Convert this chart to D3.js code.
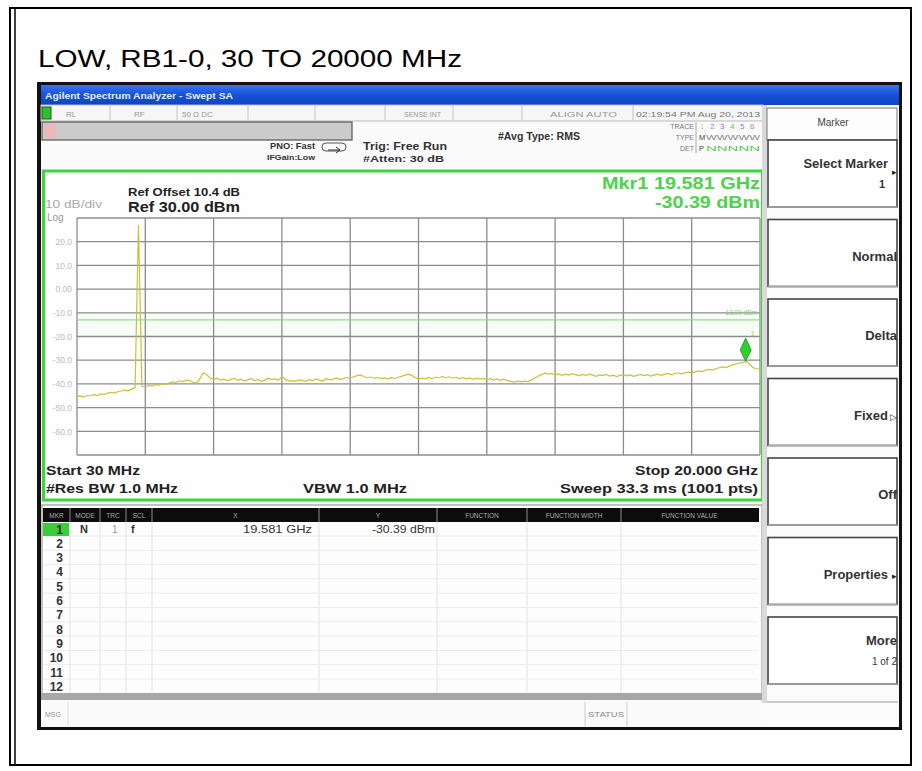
<!DOCTYPE html>
<html>
<head>
<meta charset="utf-8">
<script src="https://cdn.jsdelivr.net/npm/d3@7"></script>
<style>
  body { margin: 0; background: #fff; }
  svg { display: block; }
  text { font-family: "Liberation Sans", Arial, sans-serif; }
</style>
</head>
<body>
<svg id="chart" width="922" height="771"></svg>
<script>
// ---- sweep settings ----
const startMHz = 30;
const stopMHz = 20000;
const refLevel = 30;      // dBm, top of the graticule
const dbPerDiv = 10;
const divisions = 10;
const displayLineDbm = -13;

// ---- y graticule labels ----
const yTickValues = [20, 10, 0, -10, -20, -30, -40, -50, -60];
const yTickLabels = ["20.0", "10.0", "0.00", "-10.0", "-20.0", "-30.0", "-40.0", "-50.0", "-60.0"];

// ---- trace 1, dBm, evenly spaced from start to stop ----
const traceDbm = [
  -45.4, -45.1, -45.6, -44.9, -44.8, -44.5, -44.9, -44.2, -44.4, -43.9,
  -43.6, -43.9, -43.2, -43.0, -42.6, -42.9, -42.2, -41.7, 27.0, -41.0,
  -41.2, -40.6, -40.9, -40.3, -40.5, -39.9, -40.2, -39.6, -39.1, -39.4,
  -38.7, -39.0, -38.4, -38.6, -39.3, -39.6, -37.8, -35.3, -36.1, -37.5,
  -38.2, -37.6, -38.4, -37.9, -38.7, -38.1, -37.7, -38.5, -38.0, -38.8,
  -38.3, -37.8, -38.6, -38.1, -38.9, -38.4, -37.6, -38.2, -37.9, -38.5,
  -36.8, -38.1, -38.7, -38.6, -38.9, -38.3, -38.5, -38.8, -38.2, -38.6,
  -37.9, -38.4, -38.8, -37.7, -38.3, -38.0, -37.5, -38.1, -37.8, -37.3,
  -37.6, -37.0, -36.5, -36.2, -36.9, -37.4, -37.1, -37.6, -37.3, -37.8,
  -37.5, -37.9, -37.4, -37.7, -37.2, -36.8, -36.3, -35.9, -36.4, -37.3,
  -38.0, -37.6, -37.9, -37.3, -37.8, -37.1, -37.5, -36.8, -37.4, -37.0,
  -37.6, -37.2, -37.8, -37.4, -37.9, -37.5, -38.1, -37.6, -38.0, -37.7,
  -38.2, -37.8, -38.4, -37.9, -38.5, -38.0, -38.6, -38.9, -39.2, -38.7,
  -39.1, -38.8, -39.0, -38.4, -37.6, -36.8, -36.1, -35.5, -35.9, -35.6,
  -36.2, -35.8, -36.4, -35.9, -36.3, -35.7, -36.1, -36.6, -36.0, -36.4,
  -35.9, -36.3, -36.8, -36.2, -36.5, -36.0, -36.7, -36.3, -36.9, -36.4,
  -36.1, -36.6, -36.2, -36.8, -36.4, -36.0, -36.5, -36.1, -36.7, -36.3,
  -35.9, -36.4, -36.0, -35.6, -36.1, -35.7, -35.3, -35.8, -35.4, -35.0,
  -35.3, -34.9, -34.5, -34.8, -34.3, -33.9, -34.2, -33.6, -33.2, -32.8,
  -33.1, -32.5, -32.0, -31.6, -31.1, -31.0, -30.4, -31.8, -33.2, -33.6,
  -33.9
];

// ---- marker 1 ----
const markerFreqMHz = 19581;
const markerDbm = -30.39;

// ---- marker table ----
const markerRowNumbers = [1, 2, 3, 4, 5, 6, 7, 8, 9, 10, 11, 12];
const markerTableHeaders = ["MKR", "MODE", "TRC", "SCL", "X", "Y", "FUNCTION", "FUNCTION WIDTH", "FUNCTION VALUE"];
const markerRow1 = { mode: "N", trc: "1", scl: "f", x: "19.581 GHz", y: "-30.39 dBm" };

// ---- softkeys ----
const softkeys = [
  { label: "Select Marker", arrow: "\u25B8", sub: "1" },
  { label: "Normal" },
  { label: "Delta" },
  { label: "Fixed", arrow: "\u25B7" },
  { label: "Off" },
  { label: "Properties", arrow: "\u25B8" },
  { label: "More", sub: "1 of 2" }
];

const svg = d3.select("#chart");

function text(x, y, s, o = {}) {
  const t = svg.append("text")
    .attr("x", x).attr("y", y).text(s)
    .attr("font-size", o.size || 11)
    .attr("font-weight", o.weight || "normal")
    .attr("fill", o.fill || "#222")
    .attr("text-anchor", o.anchor || "start");
  if (o.len) t.attr("textLength", o.len).attr("lengthAdjust", "spacingAndGlyphs");
  if (o.family) t.attr("font-family", o.family);
  return t;
}
function rect(x, y, w, h, fill, stroke, sw) {
  return svg.append("rect").attr("x", x).attr("y", y).attr("width", w).attr("height", h)
    .attr("fill", fill || "none").attr("stroke", stroke || "none").attr("stroke-width", sw || 1);
}
function line(x1, y1, x2, y2, stroke, sw) {
  return svg.append("line").attr("x1", x1).attr("y1", y1).attr("x2", x2).attr("y2", y2)
    .attr("stroke", stroke).attr("stroke-width", sw || 1);
}

// ---- page frame and caption ----
rect(10, 8, 901, 757, "none", "#000", 2);
line(15, 8, 15, 765, "#000", 1.5);
text(38, 67, "LOW, RB1-0, 30 TO 20000 MHz", { size: 23, fill: "#000", len: 424 });

// ---- instrument window ----
rect(37, 82, 865, 648, "#111");
rect(41, 85, 858, 642, "#fafafa");
const grad = svg.append("defs").append("linearGradient").attr("id", "titlebar")
  .attr("x1", 0).attr("y1", 0).attr("x2", 0).attr("y2", 1);
grad.append("stop").attr("offset", 0).attr("stop-color", "#3d74ea");
grad.append("stop").attr("offset", 0.5).attr("stop-color", "#1652d8");
grad.append("stop").attr("offset", 1).attr("stop-color", "#0c44c4");
rect(41, 85, 858, 20, "url(#titlebar)");
text(45, 99, "Agilent Spectrum Analyzer - Swept SA", { size: 9, weight: "bold", fill: "#e8ecff", len: 188 });

// status row
rect(41, 105, 722, 16, "#f6f6f6", "#bbb", 1);
rect(42, 107, 9, 12, "#2fbf2f", "#155f15", 1);
[110, 177, 248, 315, 385, 453, 522, 633].forEach(xx => line(xx, 106, xx, 120, "#c4c4c4", 1));
const grey = "#999";
text(66, 117, "RL", { size: 8, fill: grey });
text(134, 117, "RF", { size: 8, fill: grey });
text(182, 117, "50 \u03A9  DC", { size: 8, fill: grey });
text(404, 117, "SENSE:INT", { size: 8, fill: grey, len: 37 });
text(550, 117, "ALIGN AUTO", { size: 8, fill: grey, len: 67 });
text(636, 117, "02:19:54 PM Aug 20, 2013", { size: 8, fill: "#777", len: 124 });

// gray progress bar
rect(42, 122, 310, 18, "#cbcbcb", "#555", 1.2);
rect(44, 124, 12, 14, "#e9b9b9");

// acquisition settings
text(270, 149, "PNO: Fast", { size: 8.5, weight: "bold", fill: "#333", len: 45 });
text(267, 160, "IFGain:Low", { size: 8, weight: "bold", fill: "#333", len: 48 });
svg.append("rect").attr("x", 322).attr("y", 143).attr("width", 24).attr("height", 8).attr("rx", 4)
  .attr("fill", "none").attr("stroke", "#555");
svg.append("path").attr("d", "M328,150 L340,150 M336,147 L340,150 L336,153").attr("stroke", "#333").attr("fill", "none");
text(363, 150, "Trig: Free Run", { size: 11, weight: "bold", fill: "#333", len: 84 });
text(363, 162, "#Atten: 30 dB", { size: 9, weight: "bold", fill: "#333", len: 81 });
text(498, 140, "#Avg Type: RMS", { size: 10, weight: "bold", fill: "#333", len: 82 });

// trace status block
text(694, 129, "TRACE", { size: 7, fill: "#777", anchor: "end" });
text(694, 140, "TYPE", { size: 7, fill: "#777", anchor: "end" });
text(694, 151, "DET", { size: 7, fill: "#777", anchor: "end" });
line(696, 122, 696, 153, "#aaa", 1);
const traceColors = ["#d8d450", "#4aa8e8", "#9b6bd8", "#58c858", "#8080e0", "#e070a0"];
traceColors.forEach((c, i) => text(700 + i * 10, 129, String(i + 1), { size: 8, fill: c }));
text(699, 140, "M", { size: 7.5, fill: "#444" });
text(706, 140, "WWWWW", { size: 7, fill: "#888", len: 54 });
text(699, 151, "P", { size: 7.5, fill: "#444" });
text(706, 151, "NNNNN", { size: 7, fill: "#5ac85a", len: 54 });

// ---- graph panel ----
rect(43.5, 171, 719, 329, "#fefefe", "#3fd43f", 3);

const plot = { l: 77, r: 760, t: 218, b: 455 };
const x = d3.scaleLinear().domain([startMHz, stopMHz]).range([plot.l, plot.r]);
const y = d3.scaleLinear().domain([refLevel - dbPerDiv * divisions, refLevel]).range([plot.b, plot.t]);

// faint band around the display line
rect(plot.l, y(-10), plot.r - plot.l, y(-20) - y(-10), "#f6fcf6");

// graticule
const g = svg.append("g");
d3.range(divisions + 1).forEach(k => {
  const f = startMHz + k * (stopMHz - startMHz) / divisions;
  g.append("line").attr("x1", x(f)).attr("x2", x(f)).attr("y1", plot.t).attr("y2", plot.b)
    .attr("stroke", "#8c8c8c").attr("stroke-width", 1.3);
  const lv = refLevel - k * dbPerDiv;
  g.append("line").attr("x1", plot.l).attr("x2", plot.r).attr("y1", y(lv)).attr("y2", y(lv))
    .attr("stroke", "#8c8c8c").attr("stroke-width", 1.3);
});

// y labels
const yAxis = d3.axisLeft(y).tickValues(yTickValues)
  .tickFormat((d, i) => yTickLabels[i]).tickSize(0).tickPadding(5);
const ya = svg.append("g").attr("transform", `translate(${plot.l},0)`).call(yAxis);
ya.select(".domain").remove();
ya.selectAll("text").attr("font-size", 8.5).attr("fill", "#bdbdbd")
  .attr("font-family", "'Liberation Sans', Arial, sans-serif");

// display line
line(plot.l, y(displayLineDbm), plot.r, y(displayLineDbm), "#82d482", 1);
text(757, y(displayLineDbm) - 5, "-13.00 dBm", { size: 6.5, fill: "#80d080", anchor: "end" });

// reference info
text(45, 208, "10 dB/div", { size: 10, fill: "#aaa", len: 57 });
text(47, 221, "Log", { size: 10, fill: "#999" });
text(128, 196, "Ref Offset 10.4 dB", { size: 11, weight: "bold", fill: "#222", len: 112 });
text(128, 212, "Ref 30.00 dBm", { size: 14, weight: "bold", fill: "#222", len: 112 });
text(760, 189, "Mkr1 19.581 GHz", { size: 17, weight: "bold", fill: "#4cd24c", anchor: "end", len: 158 });
text(760, 208, "-30.39 dBm", { size: 17, weight: "bold", fill: "#4cd24c", anchor: "end", len: 105 });

// trace
const clip = svg.append("defs").append("clipPath").attr("id", "plotclip");
clip.append("rect").attr("x", plot.l).attr("y", plot.t - 2).attr("width", plot.r - plot.l).attr("height", plot.b - plot.t + 4);
const step = (stopMHz - startMHz) / (traceDbm.length - 1);
const traceLine = d3.line().x((d, i) => x(startMHz + i * step)).y(d => y(d));
svg.append("path").datum(traceDbm).attr("d", traceLine)
  .attr("fill", "none").attr("stroke", "#c8c23a").attr("stroke-width", 1.2)
  .attr("clip-path", "url(#plotclip)");

// marker diamond, tip resting on the trace
const mx = x(markerFreqMHz), my = y(markerDbm);
svg.append("path")
  .attr("d", `M${mx},${my} L${mx - 5.5},${my - 11} L${mx},${my - 23} L${mx + 5.5},${my - 11} Z`)
  .attr("fill", "#2ed22e").attr("stroke", "#1a8a1a").attr("stroke-width", 0.8);
text(mx + 5, my - 25, "1", { size: 7, fill: "#c8c23a" });

// sweep annotation
text(46, 475, "Start 30 MHz", { size: 13, weight: "bold", fill: "#222", len: 94 });
text(46, 493, "#Res BW 1.0 MHz", { size: 13, weight: "bold", fill: "#222", len: 132 });
text(303, 493, "VBW 1.0 MHz", { size: 13, weight: "bold", fill: "#222", len: 104 });
text(758, 475, "Stop 20.000 GHz", { size: 13, weight: "bold", fill: "#222", anchor: "end", len: 123 });
text(758, 493, "Sweep  33.3 ms (1001 pts)", { size: 13, weight: "bold", fill: "#222", anchor: "end", len: 198 });

// ---- marker table ----
rect(42, 505, 720, 190, "#fdfdfd", "#888", 1);
rect(43, 508, 716, 14, "#0c0c0c");
const colEdges = [43, 70, 100, 126, 152, 319, 437, 527, 621, 758];
colEdges.slice(1, -1).forEach(cx => {
  line(cx, 508, cx, 522, "#777", 1.2);
  line(cx, 522, cx, 692, "#e2e2e2", 1);
});
markerTableHeaders.forEach((h, i) => {
  text((colEdges[i] + colEdges[i + 1]) / 2, 518, h, { size: 6.5, fill: "#aaa", anchor: "middle" });
});
const rowY = n => 529 + (n - 1) * 14.3;
markerRowNumbers.forEach(n => {
  line(43, rowY(n) + 7, 758, rowY(n) + 7, "#ececec", 1);
});
rect(43, 523, 26, 13, "#37cf37");
markerRowNumbers.forEach(n => {
  text(63, rowY(n) + 4.5, String(n), { size: 12, weight: "bold", fill: "#333", anchor: "end" });
});
text(80, 533, markerRow1.mode, { size: 11, weight: "bold", fill: "#333" });
text(112, 533, markerRow1.trc, { size: 10, fill: "#999" });
text(131, 533, markerRow1.scl, { size: 11, weight: "bold", fill: "#333" });
text(312, 533, markerRow1.x, { size: 11, fill: "#333", anchor: "end", len: 69 });
text(372, 533, markerRow1.y, { size: 11, fill: "#333", len: 63 });

// gray divider and message bar
rect(41, 693, 722, 7, "#a7a7a7");
text(45, 717, "MSG", { size: 7, fill: "#999" });
line(68, 702, 68, 726, "#ddd", 1);
line(585, 702, 585, 726, "#ccc", 1);
line(627, 702, 627, 726, "#ccc", 1);
text(588, 717, "STATUS", { size: 7, fill: "#888", len: 36 });

// ---- softkey column ----
rect(762, 105, 6, 598, "#d9d9d9");
rect(767, 105, 132, 622, "#fbfbfb");
rect(767, 108, 130, 32, "#fdfdfd", "#777", 1);
text(833, 126, "Marker", { size: 10, fill: "#444", anchor: "middle" });
const keyTop = i => 140 + i * 79.5;
softkeys.forEach((k, i) => {
  const top = keyTop(i);
  rect(768, top, 129, 67, "#ffffff", "#444", 1.6);
  line(768, top + 67, 897, top + 67, "#aaa", 1.5);
  const labelX = k.arrow ? 888 : 897;
  const base = top + (k.sub ? 28 : 41);
  text(labelX, base, k.label, { size: 13, weight: "bold", fill: "#333", anchor: "end" });
  if (k.arrow) text(897, base + (i === 0 ? 7 : 0), k.arrow, { size: 9, fill: "#222", anchor: "end" });
  if (k.sub) text(i === 0 ? 885 : 897, base + 20, k.sub, { size: i === 0 ? 11 : 10, weight: i === 0 ? "bold" : "normal", fill: "#333", anchor: "end" });
});
line(767, 702, 898, 702, "#999", 1);
</script>
</body>
</html>
